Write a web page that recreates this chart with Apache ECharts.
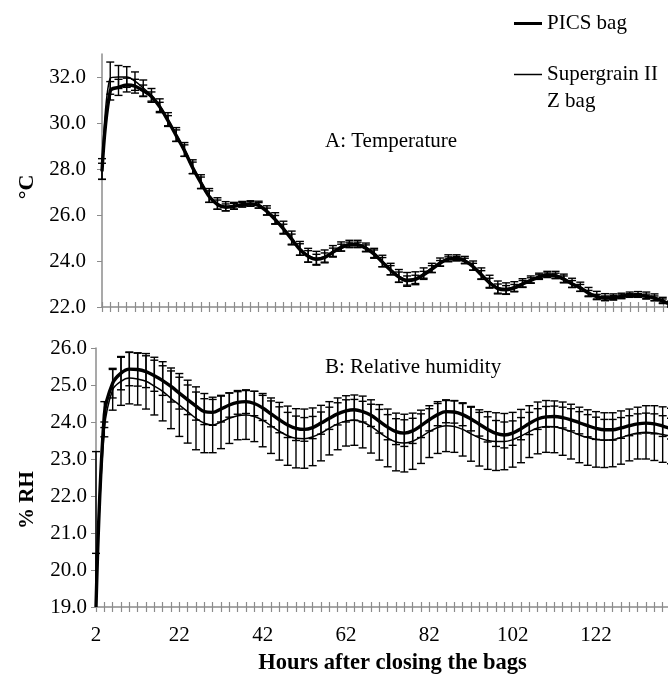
<!DOCTYPE html>
<html>
<head>
<meta charset="utf-8">
<script src="https://cdn.jsdelivr.net/npm/echarts@6/dist/echarts.min.js"></script>
<style>
html,body{margin:0;padding:0;background:#fff;}
#chart{width:668px;height:674px;}
</style>
</head>
<body>
<div id="chart"></div>
<script>
// ---- Data ----
const hours = ['2','4','6','8','10','12','14','16','18','20',
  '22','24','26','28','30','32','34','36','38','40',
  '42','44','46','48','50','52','54','56','58','60',
  '62','64','66','68','70','72','74','76','78','80',
  '82','84','86','88','90','92','94','96','98','100',
  '102','104','106','108','110','112','114','116','118','120',
  '122','124','126','128','130','132','134','136','138','140'];
const xTickLabels = ['2','22','42','62','82','102','122'];
const tempTicks = [22, 24, 26, 28, 30, 32];

const tempPICS = [27.9, 31.4, 31.55, 31.65, 31.6, 31.4, 31.15, 30.7, 30.1, 29.45,
  28.8, 28.05, 27.4, 26.8, 26.45, 26.33, 26.38, 26.45, 26.48, 26.42,
  26.15, 25.8, 25.4, 24.95, 24.5, 24.2, 24.07, 24.15, 24.38, 24.58,
  24.7, 24.7, 24.55, 24.3, 23.95, 23.6, 23.3, 23.15, 23.2, 23.4,
  23.65, 23.9, 24.08, 24.1, 24.0, 23.75, 23.4, 23.05, 22.8, 22.75,
  22.83, 23.0, 23.15, 23.3, 23.38, 23.35, 23.2, 23.0, 22.83, 22.6,
  22.45, 22.38, 22.4, 22.46, 22.5, 22.5, 22.46, 22.38, 22.25, 22.1];
const tempSG = [28.0, 31.95, 32.0, 32.0, 31.82, 31.52, 31.2, 30.75, 30.15, 29.5,
  28.85, 28.1, 27.45, 26.85, 26.5, 26.38, 26.4, 26.47, 26.5, 26.45,
  26.2, 25.85, 25.45, 25.0, 24.55, 24.25, 24.12, 24.2, 24.42, 24.63,
  24.75, 24.75, 24.6, 24.35, 24.0, 23.65, 23.35, 23.2, 23.25, 23.45,
  23.7, 23.95, 24.12, 24.15, 24.05, 23.8, 23.45, 23.1, 22.85, 22.8,
  22.88, 23.05, 23.2, 23.35, 23.43, 23.4, 23.25, 23.05, 22.88, 22.65,
  22.5, 22.43, 22.45, 22.5, 22.55, 22.55, 22.5, 22.42, 22.3, 22.15];
const tempPICSerr = [0.35, 0.4, 0.35, 0.3, 0.3, 0.25, 0.2, 0.2, 0.22, 0.25,
  0.25, 0.25, 0.25, 0.25, 0.2, 0.15, 0.12, 0.1, 0.1, 0.12,
  0.15, 0.18, 0.2, 0.22, 0.25, 0.25, 0.22, 0.2, 0.18, 0.15,
  0.12, 0.12, 0.15, 0.18, 0.2, 0.2, 0.22, 0.2, 0.18, 0.15,
  0.15, 0.12, 0.1, 0.1, 0.12, 0.15, 0.18, 0.2, 0.2, 0.18,
  0.15, 0.15, 0.12, 0.1, 0.1, 0.12, 0.15, 0.15, 0.15, 0.12,
  0.1, 0.1, 0.1, 0.1, 0.08, 0.08, 0.1, 0.1, 0.1, 0.1];
const tempSGerr = [0.45, 0.7, 0.5, 0.45, 0.4, 0.35, 0.3, 0.3, 0.3, 0.3,
  0.3, 0.3, 0.3, 0.3, 0.25, 0.2, 0.15, 0.12, 0.12, 0.15,
  0.2, 0.25, 0.28, 0.3, 0.3, 0.3, 0.3, 0.28, 0.25, 0.2,
  0.15, 0.15, 0.18, 0.2, 0.25, 0.25, 0.28, 0.3, 0.28, 0.25,
  0.2, 0.18, 0.15, 0.12, 0.15, 0.2, 0.25, 0.28, 0.28, 0.25,
  0.22, 0.18, 0.15, 0.12, 0.12, 0.15, 0.18, 0.2, 0.2, 0.2,
  0.18, 0.15, 0.12, 0.1, 0.1, 0.12, 0.15, 0.15, 0.12, 0.1];

const rhPICS = [19.0, 24.2, 25.05, 25.32, 25.43, 25.42, 25.36, 25.25, 25.12, 24.96,
  24.78, 24.6, 24.43, 24.28, 24.26, 24.35, 24.46, 24.53, 24.55, 24.5,
  24.38, 24.22, 24.06, 23.92, 23.83, 23.8, 23.85, 23.97, 24.1, 24.22,
  24.3, 24.33, 24.28, 24.18, 24.02, 23.86, 23.74, 23.7, 23.76, 23.9,
  24.06, 24.2, 24.28, 24.27, 24.2, 24.08, 23.94, 23.8, 23.69, 23.65,
  23.7, 23.82, 23.96, 24.08, 24.14, 24.15, 24.12, 24.06, 23.98, 23.9,
  23.83, 23.79, 23.79, 23.84, 23.9, 23.95, 23.97, 23.95, 23.89, 23.82];
const rhSG = [19.3, 23.8, 24.87, 25.1, 25.19, 25.16, 25.1, 24.97, 24.83, 24.64,
  24.46, 24.28, 24.1, 23.97, 23.92, 24.0, 24.1, 24.17, 24.19, 24.15,
  24.05, 23.9, 23.75, 23.63, 23.56, 23.55, 23.6, 23.7, 23.83, 23.95,
  24.03, 24.05, 24.0, 23.88, 23.72, 23.57, 23.46, 23.43, 23.48, 23.6,
  23.74, 23.85, 23.9, 23.88, 23.8, 23.68, 23.57, 23.5, 23.47, 23.47,
  23.52, 23.62, 23.74, 23.84, 23.88, 23.87, 23.82, 23.74, 23.65, 23.58,
  23.53, 23.51, 23.52, 23.58, 23.65, 23.7, 23.72, 23.7, 23.66, 23.62];
const rhPICSerr = [1.45, 0.35, 0.4, 0.45, 0.45, 0.45, 0.43, 0.42, 0.4, 0.42,
  0.43, 0.4, 0.38, 0.35, 0.35, 0.35, 0.33, 0.32, 0.32, 0.33,
  0.34, 0.35, 0.35, 0.34, 0.33, 0.32, 0.3, 0.3, 0.3, 0.3,
  0.3, 0.28, 0.28, 0.3, 0.32, 0.34, 0.35, 0.36, 0.34, 0.32,
  0.3, 0.3, 0.3, 0.3, 0.3, 0.32, 0.32, 0.34, 0.35, 0.35,
  0.33, 0.3, 0.3, 0.28, 0.28, 0.28, 0.28, 0.3, 0.3, 0.3,
  0.3, 0.28, 0.28, 0.28, 0.27, 0.27, 0.27, 0.27, 0.28, 0.28];
const rhSGerr = [3.9, 0.2, 0.55, 0.65, 0.7, 0.7, 0.75, 0.78, 0.8, 0.82,
  0.85, 0.85, 0.85, 0.8, 0.75, 0.72, 0.68, 0.65, 0.66, 0.68,
  0.72, 0.75, 0.78, 0.8, 0.8, 0.8, 0.78, 0.75, 0.72, 0.7,
  0.68, 0.68, 0.7, 0.72, 0.75, 0.78, 0.78, 0.78, 0.76, 0.72,
  0.7, 0.7, 0.7, 0.7, 0.72, 0.74, 0.76, 0.78, 0.78, 0.76,
  0.74, 0.72, 0.7, 0.7, 0.7, 0.7, 0.72, 0.74, 0.75, 0.75,
  0.75, 0.74, 0.73, 0.72, 0.7, 0.7, 0.72, 0.74, 0.75, 0.75];

// ---- Chart ----
const FONT = '"Liberation Serif", "Times New Roman", serif';
const GRAY = '#8c8c8c';
const FS = 21;

function errData(vals, errs) {
  return vals.map((v, i) => [i, v - errs[i], v + errs[i]]);
}
function errRender(yMin, yMax) {
  return function (params, api) {
    const i = api.value(0), lo = api.value(1), hi = api.value(2);
    const lo2 = Math.max(lo, yMin), hi2 = Math.min(hi, yMax);
    if (hi2 <= lo2) return;
    const pt = api.coord([i, hi2]), pb = api.coord([i, lo2]);
    const w = 4;
    const st = { stroke: '#000', lineWidth: 1.4 };
    const ch = [{ type: 'line', shape: { x1: pt[0], y1: pt[1], x2: pb[0], y2: pb[1] }, style: st }];
    if (hi <= yMax) ch.push({ type: 'line', shape: { x1: pt[0] - w, y1: pt[1], x2: pt[0] + w, y2: pt[1] }, style: st });
    if (lo >= yMin) ch.push({ type: 'line', shape: { x1: pb[0] - w, y1: pb[1], x2: pb[0] + w, y2: pb[1] }, style: st });
    return { type: 'group', children: ch };
  };
}

function mainX(gridIndex, showLabels, extra) {
  return Object.assign({
    type: 'category', gridIndex: gridIndex, data: hours, boundaryGap: false, position: 'bottom',
    axisLine: { show: true, lineStyle: { color: GRAY, width: 1.5 } },
    axisTick: { show: true, interval: 0, length: 5, lineStyle: { color: GRAY, width: 1.2 } },
    axisLabel: {
      show: showLabels, interval: 0, margin: 18,
      formatter: v => (xTickLabels.indexOf(v) >= 0 ? v : ''),
      fontFamily: FONT, fontSize: FS, color: '#000'
    },
    splitLine: { show: false }
  }, extra || {});
}
function innerX(gridIndex) {
  return {
    type: 'category', gridIndex: gridIndex, data: hours, boundaryGap: false, position: 'bottom',
    axisLine: { show: false },
    axisTick: { show: true, inside: true, interval: 0, length: 5, lineStyle: { color: GRAY, width: 1.2 } },
    axisLabel: { show: false }, splitLine: { show: false }
  };
}

const option = {
  backgroundColor: '#fff',
  animation: false,
  title: [
    { text: 'A: Temperature', left: 320, top: 126, textStyle: { fontFamily: FONT, fontSize: FS, fontWeight: 'normal', color: '#000' } },
    { text: 'B: Relative humidity', left: 320, top: 352, textStyle: { fontFamily: FONT, fontSize: FS, fontWeight: 'normal', color: '#000' } }
  ],
  legend: {
    orient: 'vertical', left: 509, top: 5, itemGap: -3,
    itemWidth: 28, itemHeight: 3,
    textStyle: { fontFamily: FONT, fontSize: FS, color: '#000', lineHeight: 27 },
    formatter: n => (n === 'Supergrain II Z bag' ? ' \nSupergrain II\nZ bag' : n),
    data: [
      { name: 'PICS bag', icon: 'path://M0,0H28V3H0Z' },
      { name: 'Supergrain II Z bag', icon: 'path://M0,0H56V3H0Z' }
    ],
    selectedMode: false
  },
  grid: [
    { left: 102, right: -3, top: 54, height: 253, containLabel: false, outerBoundsMode: 'none' },
    { left: 96, right: -3, top: 348, height: 259, containLabel: false, outerBoundsMode: 'none' }
  ],
  xAxis: [
    mainX(0, false),
    innerX(0),
    mainX(1, true, {
      name: 'Hours after closing the bags', nameLocation: 'middle', nameGap: 45,
      nameTextStyle: { fontFamily: FONT, fontSize: 22.5, fontWeight: 'bold', color: '#000', padding: [0, 0, 0, 18] }
    }),
    innerX(1)
  ],
  yAxis: [
    {
      type: 'value', gridIndex: 0, min: 22, max: 33, interval: 2,
      name: '°C', nameLocation: 'middle', nameGap: 60, nameRotate: 90,
      nameTextStyle: { fontFamily: FONT, fontSize: 22, fontWeight: 'bold', color: '#000', padding: [0, 13, 0, 0] },
      axisLine: { show: true, lineStyle: { color: GRAY, width: 1.5 } },
      axisTick: { show: true, length: 5, lineStyle: { color: GRAY }, customValues: tempTicks },
      axisLabel: { fontFamily: FONT, fontSize: FS, color: '#000', margin: 16, formatter: v => v.toFixed(1), customValues: tempTicks },
      splitLine: { show: false }
    },
    {
      type: 'value', gridIndex: 1, min: 19, max: 26, interval: 1,
      name: '% RH', nameLocation: 'middle', nameGap: 58, nameRotate: 90,
      nameTextStyle: { fontFamily: FONT, fontSize: 21, fontWeight: 'bold', color: '#000', padding: [0, 45, 0, 0] },
      axisLine: { show: true, lineStyle: { color: GRAY, width: 1.5 } },
      axisTick: { show: true, length: 5, lineStyle: { color: GRAY } },
      axisLabel: { fontFamily: FONT, fontSize: FS, color: '#000', margin: 9, formatter: v => v.toFixed(1) },
      splitLine: { show: false }
    }
  ],
  series: [
    { name: 'PICS bag', type: 'line', xAxisIndex: 0, yAxisIndex: 0, data: tempPICS, smooth: 0.35, showSymbol: false, symbol: 'none',
      lineStyle: { color: '#000', width: 3.4 }, itemStyle: { color: '#000' } },
    { name: 'Supergrain II Z bag', type: 'line', xAxisIndex: 0, yAxisIndex: 0, data: tempSG, smooth: 0.35, showSymbol: false, symbol: 'none',
      lineStyle: { color: '#000', width: 1.5 }, itemStyle: { color: '#000' } },
    { name: 'PICS temp SE', type: 'custom', xAxisIndex: 0, yAxisIndex: 0, data: errData(tempPICS, tempPICSerr),
      renderItem: errRender(22, 33), encode: { x: 0, y: [1, 2] }, silent: true },
    { name: 'SG temp SE', type: 'custom', xAxisIndex: 0, yAxisIndex: 0, data: errData(tempSG, tempSGerr),
      renderItem: errRender(22, 33), encode: { x: 0, y: [1, 2] }, silent: true },
    { name: 'PICS bag', type: 'line', xAxisIndex: 2, yAxisIndex: 1, data: rhPICS, smooth: 0.35, showSymbol: false, symbol: 'none',
      lineStyle: { color: '#000', width: 3.4 }, itemStyle: { color: '#000' } },
    { name: 'Supergrain II Z bag', type: 'line', xAxisIndex: 2, yAxisIndex: 1, data: rhSG, smooth: 0.35, showSymbol: false, symbol: 'none',
      lineStyle: { color: '#000', width: 1.5 }, itemStyle: { color: '#000' } },
    { name: 'PICS RH SE', type: 'custom', xAxisIndex: 2, yAxisIndex: 1, data: errData(rhPICS, rhPICSerr),
      renderItem: errRender(19, 26), encode: { x: 0, y: [1, 2] }, silent: true },
    { name: 'SG RH SE', type: 'custom', xAxisIndex: 2, yAxisIndex: 1, data: errData(rhSG, rhSGerr),
      renderItem: errRender(19, 26), encode: { x: 0, y: [1, 2] }, silent: true }
  ]
};

const chart = echarts.init(document.getElementById('chart'), null, { renderer: 'canvas' });
chart.setOption(option);
</script>
</body>
</html>
